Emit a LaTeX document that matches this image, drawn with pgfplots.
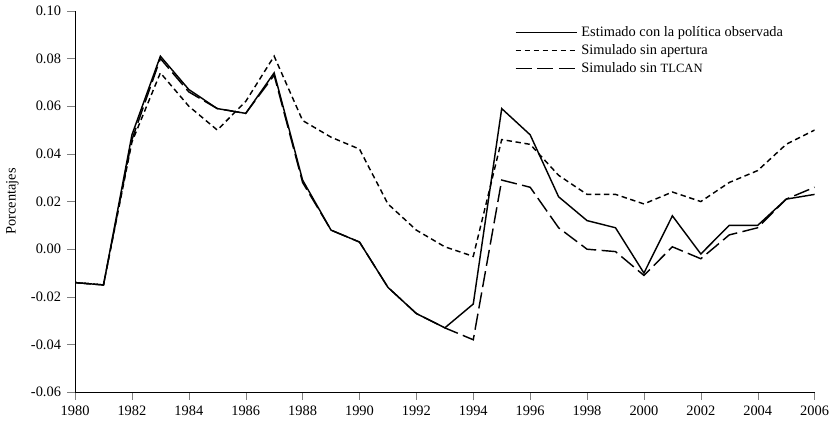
\documentclass[border=0pt]{standalone}
\usepackage{pgfplots}
\pgfplotsset{compat=1.18}
\usepackage{fontspec}
\setmainfont{Liberation Serif}
\begin{document}
\begin{tikzpicture}
\begin{axis}[
  width=14.43cm, height=7.44cm, scale only axis,
  xmin=1980, xmax=2006, ymin=-0.06, ymax=0.10,
  xtick={1980,1982,...,2006},
  ytick={-0.06,-0.04,...,0.10},
  axis lines=left, axis line style={-},
  tick align=outside, tick pos=left,
  minor x tick num=1,
  x tick label style={/pgf/number format/1000 sep={}},
  y tick label style={/pgf/number format/.cd,fixed,fixed zerofill,precision=2},
  /pgf/number format/assume math mode=true,
  ticklabel style={font=\footnotesize},
  ylabel={Porcentajes}, ylabel style={font=\footnotesize},
  legend style={draw=none, at={(0.97,0.98)}, anchor=north east, font=\footnotesize, fill=none, row sep=-1pt},
  legend cell align=left,
  legend image code/.code={\draw[#1] (0cm,0cm) -- (1.2cm,0cm);},
]
\addplot[black, no marks, line width=0.8pt] coordinates {(1980,-0.014)(1981,-0.015)(1982,0.048)(1983,0.081)(1984,0.067)(1985,0.059)(1986,0.057)(1987,0.074)(1988,0.029)(1989,0.008)(1990,0.003)(1991,-0.016)(1992,-0.027)(1993,-0.033)(1994,-0.023)(1995,0.059)(1996,0.048)(1997,0.022)(1998,0.012)(1999,0.009)(2000,-0.010)(2001,0.014)(2002,-0.002)(2003,0.010)(2004,0.010)(2005,0.021)(2006,0.023)};
\addlegendentry{Estimado con la política observada}
\addplot[black, no marks, line width=0.8pt, dash pattern=on 3pt off 2pt] coordinates {(1980,-0.014)(1981,-0.015)(1982,0.045)(1983,0.074)(1984,0.060)(1985,0.050)(1986,0.062)(1987,0.081)(1988,0.054)(1989,0.047)(1990,0.042)(1991,0.019)(1992,0.008)(1993,0.001)(1994,-0.003)(1995,0.046)(1996,0.044)(1997,0.031)(1998,0.023)(1999,0.023)(2000,0.019)(2001,0.024)(2002,0.020)(2003,0.028)(2004,0.033)(2005,0.044)(2006,0.050)};
\addlegendentry{Simulado sin apertura}
\addplot[black, no marks, line width=0.8pt, dash pattern=on 9pt off 3pt] coordinates {(1980,-0.014)(1981,-0.015)(1982,0.046)(1983,0.080)(1984,0.066)(1985,0.059)(1986,0.057)(1987,0.073)(1988,0.028)(1989,0.008)(1990,0.003)(1991,-0.016)(1992,-0.027)(1993,-0.033)(1994,-0.038)(1995,0.029)(1996,0.026)(1997,0.009)(1998,0.000)(1999,-0.001)(2000,-0.011)(2001,0.001)(2002,-0.004)(2003,0.006)(2004,0.009)(2005,0.021)(2006,0.026)};
\addlegendentry{Simulado sin {\scriptsize TLCAN}}
\end{axis}
\end{tikzpicture}
\end{document}
